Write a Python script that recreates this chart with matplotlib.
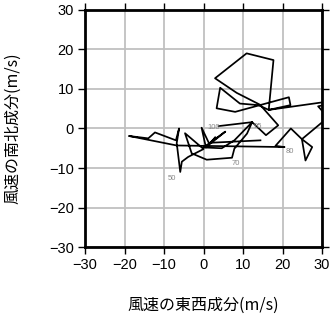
import matplotlib
matplotlib.use("Agg")
from matplotlib import pyplot as plt

# hodograph: wind u/v components (m/s)
u = [3.8, 12.3, 15.8, 18.9, 14.3, 8.4, 2.9, 10.9, 17.7, 16.5, 22.0, 21.6, 8.0, 3.3,
     4.2, 9.2, 13.9, 16.5, 40.0, 29.0, 31.5, 24.9, 27.5, 25.8, 24.9, 22.1, 18.2, 20.5,
     -6.8, -18.9, -14.0, -12.3, -7.0, -6.2, -6.8, -5.9, -5.5, -3.9, 0.0, -4.7, -3.0,
     0.8, 7.2, 7.8, 11.0, 12.3, 7.8, 4.6, 0.0, 5.5, 1.5, -0.5, 0.6, 3.0, 2.0, 14.4]
v = [0.6, 1.6, -1.7, 0.8, 6.0, 9.0, 12.7, 19.0, 17.3, 4.7, 5.9, 7.9, 4.2, 5.1,
     10.3, 6.3, 5.9, 4.7, 8.0, 5.6, 2.8, -2.7, -4.7, -8.1, -2.7, 0.0, -4.4, -4.7,
     -4.3, -1.9, -2.5, -1.0, -3.0, 0.0, -3.7, -11.0, -8.4, -7.2, -5.2, -1.2, -6.3,
     -7.9, -7.4, -5.1, -1.3, 1.6, -3.0, -5.0, -4.8, -0.8, -4.0, 0.2, -4.8, -2.2, -3.6, -3.0]

# labelled points: index in path, text
lab_idx = [0, 1, 27, 35, 42]
lab_txt = ["100", "95", "80", "50", "70"]
lab_off = [(-8, -1), (1, -3), (1, -3), (-9, -5), (0, -4)]

plt.rcParams['font.family'] = ['Noto Sans CJK JP', 'DejaVu Sans']

fig = plt.figure(figsize=(3.31, 3.18), dpi=100)
ax = fig.add_axes([0.257, 0.223, 0.716, 0.746])

ax.plot(u, v, color="black", lw=1.25, zorder=3)
for i, t, off in zip(lab_idx, lab_txt, lab_off):
    ax.annotate(t, (u[i], v[i]), xytext=off, textcoords="offset points",
                fontsize=5.5, color="#888888", ha="left", va="center", zorder=4,
                family=["Liberation Sans", "DejaVu Sans"])

ax.set_xlim(-30, 30)
ax.set_ylim(-30, 30)
ax.set_xticks(range(-30, 31, 10))
ax.set_yticks(range(-30, 31, 10))
ax.grid(True, color="#c0c0c0", lw=1.3, zorder=1)
ax.tick_params(direction="out", length=5, width=1, top=True, right=True,
               labelsize=10.5, pad=3)
for lab in ax.get_xticklabels() + ax.get_yticklabels():
    lab.set_family(["Liberation Sans", "DejaVu Sans"])
for s in ax.spines.values():
    s.set_linewidth(2)

ax.set_xlabel("風速の東西成分(m/s)", fontsize=11.5, labelpad=18)
ax.set_ylabel("風速の南北成分(m/s)", fontsize=11.5, labelpad=20)

fig.savefig("out.png", dpi=100)
